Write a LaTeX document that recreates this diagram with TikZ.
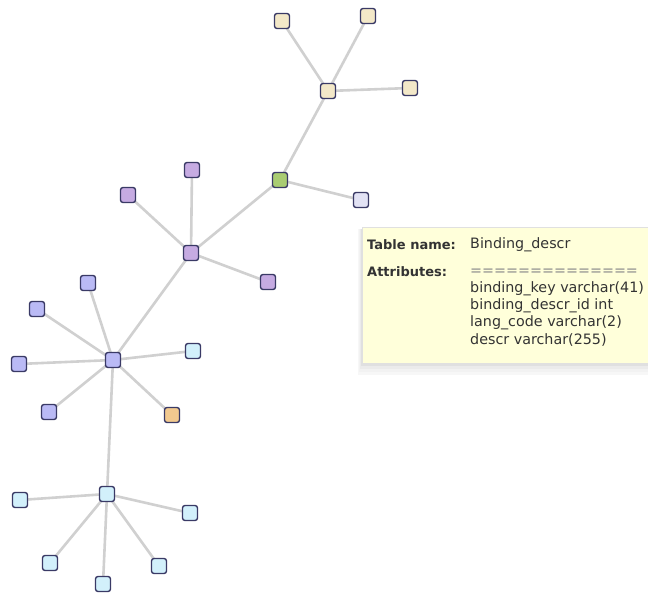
\documentclass[tikz,border=0pt]{standalone}
\usepackage{fontspec}
\setmainfont{DejaVu Sans}
\usetikzlibrary{backgrounds}
\definecolor{edgegray}{HTML}{D0D0D0}
\definecolor{nodeline}{HTML}{3A3A66}
\definecolor{beige}{HTML}{F3E8C8}
\definecolor{leaf}{HTML}{A9CC72}
\definecolor{mist}{HTML}{E2E2F4}
\definecolor{violet}{HTML}{C6ABE2}
\definecolor{periw}{HTML}{BABAF5}
\definecolor{ice}{HTML}{D2F0FB}
\definecolor{apricot}{HTML}{F2C98F}
\definecolor{tipfill}{HTML}{FFFFDA}
\begin{document}
\begin{tikzpicture}[x=1pt,y=-1pt,
  tbl/.style={draw=nodeline,line width=1.4pt,rounded corners=2.5pt,
    minimum size=15pt,inner sep=0pt},
  link/.style={draw=edgegray,line width=2.6pt},
  tiptext/.style={anchor=west,inner sep=0pt,font=\fontsize{14.3}{16}\selectfont,text=black!80},
  tiphead/.style={tiptext,font=\fontsize{13}{15}\selectfont\bfseries}]
\useasboundingbox (0,0) rectangle (648,596);
% top cluster
\node[tbl,fill=beige] (th) at (328,91) {};
\node[tbl,fill=beige] (t1) at (282,21) {};
\node[tbl,fill=beige] (t2) at (368,16) {};
\node[tbl,fill=beige] (t3) at (410,88) {};
\node[tbl,fill=leaf] (g) at (280,180) {};
\node[tbl,fill=mist] (m) at (361,200) {};
% purple cluster
\node[tbl,fill=violet] (ph) at (191,253) {};
\node[tbl,fill=violet] (p1) at (192,170) {};
\node[tbl,fill=violet] (p2) at (128,195) {};
\node[tbl,fill=violet] (p3) at (268,282) {};
% blue cluster
\node[tbl,fill=periw] (bh) at (113,360) {};
\node[tbl,fill=periw] (b1) at (88,283) {};
\node[tbl,fill=periw] (b2) at (37,309) {};
\node[tbl,fill=periw] (b3) at (19,364) {};
\node[tbl,fill=periw] (b4) at (49,412) {};
\node[tbl,fill=ice] (bc) at (193,351) {};
\node[tbl,fill=apricot] (bo) at (172,415) {};
% cyan cluster
\node[tbl,fill=ice] (ch) at (107,494) {};
\node[tbl,fill=ice] (c2) at (20,500) {};
\node[tbl,fill=ice] (c3) at (190,513) {};
\node[tbl,fill=ice] (c4) at (50,563) {};
\node[tbl,fill=ice] (c5) at (103,584) {};
\node[tbl,fill=ice] (c6) at (159,566) {};
% white page and connectors, behind the tables
\begin{scope}[on background layer]
\fill[white] (0,0) rectangle (648,596);
\foreach \a/\b in {th/t1,th/t2,th/t3,th/g,g/m,g/ph,ph/p1,ph/p2,ph/p3,ph/bh,
  bh/b1,bh/b2,bh/b3,bh/b4,bh/bc,bh/bo,bh/ch,ch/c2,ch/c3,ch/c4,ch/c5,ch/c6}
  \draw[link] (\a.center) -- (\b.center);
\end{scope}
% tooltip with a soft shadow fading downwards
\foreach \d/\s in {12/3,9/5,6/8,3/12}
  \fill[black!\s] (362-\d/3,229) rectangle (652,363+\d);
\draw[draw=black!12,fill=tipfill] (362,227) rectangle (652,363);
\node[tiphead] (tn) at (367,245) {Table name:};
\node[tiptext] (tv) at (470,245) {Binding\_descr};
\node[tiphead] (at) at (367,272) {Attributes:};
\node[tiptext,text=black!45] (eq) at (470,272) {==============};
\node[tiptext] (a1) at (470,289) {binding\_key varchar(41)};
\node[tiptext] (a2) at (470,306) {binding\_descr\_id int};
\node[tiptext] (a3) at (470,323) {lang\_code varchar(2)};
\node[tiptext] (a4) at (470,340) {descr varchar(255)};
\end{tikzpicture}
\end{document}
